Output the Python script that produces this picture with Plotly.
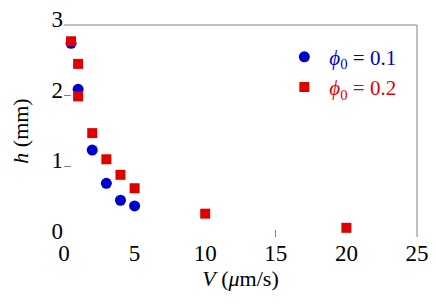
import plotly.graph_objects as go

V_01 = [0.5, 1.0, 2.0, 3.0, 4.0, 5.0]
h_01 = [2.74, 2.09, 1.23, 0.76, 0.52, 0.44]
V_02 = [0.5, 1.0, 1.0, 2.0, 3.0, 4.0, 5.0, 10.0, 20.0]
h_02 = [2.77, 2.45, 1.99, 1.47, 1.10, 0.88, 0.69, 0.33, 0.13]

x_ticks = [0, 5, 10, 15, 20, 25]
y_ticks = [0, 1, 2, 3]
x_marks = [15]
y_marks = [1, 2]

BLUE = "#0000cc"
RED = "#e00000"
GREY = "#808080"
FONT = "Liberation Serif"

fig = go.Figure()
fig.add_trace(go.Scatter(
    x=V_01, y=h_01, mode="markers",
    marker=dict(symbol="circle", size=11, color=BLUE),
    name=f"<span style='color:{BLUE}'><i>ϕ</i><sub>0</sub> = 0.1</span>",
))
fig.add_trace(go.Scatter(
    x=V_02, y=h_02, mode="markers",
    marker=dict(symbol="square", size=10, color=RED),
    name=f"<span style='color:{RED}'><i>ϕ</i><sub>0</sub> = 0.2</span>",
))

# page body has an 8px default margin, so the figure is sized to fit after it
fig.update_layout(
    width=428, height=296,
    margin=dict(l=56, r=19, t=17, b=67, autoexpand=False),
    paper_bgcolor="white", plot_bgcolor="white",
    font=dict(family=FONT, size=23, color="black"),
    showlegend=True,
    legend=dict(x=0.61, y=0.945, xanchor="left", yanchor="top",
                bgcolor="rgba(0,0,0,0)", font=dict(family=FONT, size=21),
                itemwidth=40, tracegroupgap=0),
    xaxis=dict(range=[0, 25], tickvals=x_ticks, ticks="", showline=False,
               showgrid=False, zeroline=False, automargin=False, mirror="ticks",
               minor=dict(tickvals=x_marks, ticks="inside", ticklen=7,
                          tickcolor=GREY, showgrid=False),
               title=dict(text="<i>V</i> (<i>μ</i>m/s)", font=dict(family=FONT, size=22), standoff=2)),
    yaxis=dict(range=[0, 3], tickvals=y_ticks, ticks="", showline=False,
               showgrid=False, zeroline=False, automargin=False, mirror="ticks",
               ticklabelshift=-6, ticklabeloverflow="allow",
               minor=dict(tickvals=y_marks, ticks="inside", ticklen=7,
                          tickcolor=GREY, showgrid=False),
               title=dict(text="<i>h</i> (mm)", font=dict(family=FONT, size=22), standoff=20)),
    shapes=[
        dict(type="line", xref="paper", yref="paper", x0=0, x1=1, y0=1, y1=1,
             line=dict(color=GREY, width=1)),
        dict(type="line", xref="paper", yref="paper", x0=1, x1=1, y0=0, y1=1,
             line=dict(color=GREY, width=1)),
    ],
)

fig.write_html("out.html")
